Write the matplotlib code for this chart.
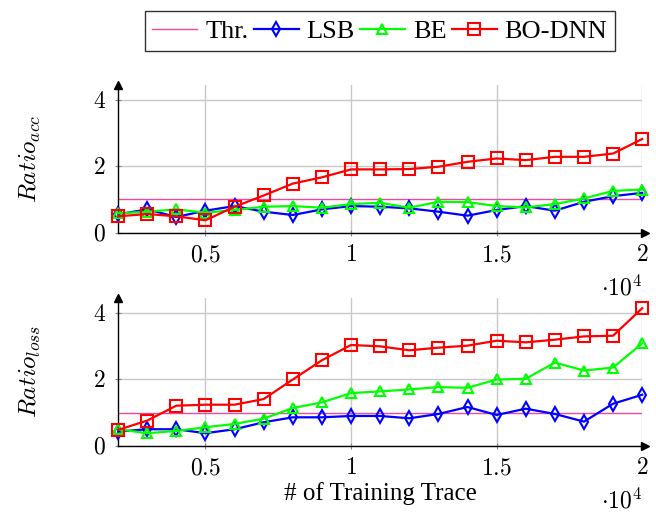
import numpy as np
import matplotlib.pyplot as plt

plt.rcParams['mathtext.fontset'] = 'cm'
plt.rcParams['font.family'] = 'Liberation Serif'

# training trace counts
traces = [2000, 3000, 4000, 5000, 6000, 7000, 8000, 9000, 10000, 11000,
          12000, 13000, 14000, 15000, 16000, 17000, 18000, 19000, 20000]
thr = 1.0

# accuracy ratio
acc_lsb = [0.55, 0.70, 0.47, 0.66, 0.80, 0.63, 0.53, 0.70, 0.80, 0.78,
           0.73, 0.63, 0.51, 0.68, 0.80, 0.66, 0.93, 1.10, 1.20]
acc_be = [0.58, 0.63, 0.70, 0.60, 0.68, 0.78, 0.80, 0.75, 0.86, 0.90,
          0.75, 0.93, 0.92, 0.80, 0.76, 0.86, 1.03, 1.26, 1.30]
acc_bo = [0.49, 0.56, 0.49, 0.37, 0.78, 1.12, 1.48, 1.67, 1.91, 1.91,
          1.92, 1.99, 2.14, 2.24, 2.19, 2.29, 2.29, 2.39, 2.83]

# loss ratio
loss_lsb = [0.43, 0.50, 0.50, 0.38, 0.50, 0.71, 0.86, 0.86, 0.90, 0.90,
            0.83, 0.96, 1.17, 0.93, 1.12, 0.96, 0.73, 1.27, 1.54]
loss_be = [0.50, 0.38, 0.45, 0.56, 0.66, 0.82, 1.14, 1.31, 1.59, 1.64,
           1.70, 1.77, 1.75, 2.00, 2.02, 2.51, 2.27, 2.36, 3.09]
loss_bo = [0.48, 0.76, 1.21, 1.24, 1.24, 1.41, 2.00, 2.58, 3.04, 3.00,
           2.88, 2.96, 3.02, 3.17, 3.12, 3.20, 3.30, 3.32, 4.15]

xticks = [5000, 10000, 15000, 20000]
xticklabels = ['$0.5$', '$1$', '$1.5$', '$2$']
yticks = [0, 2, 4]

PINK = '#ea4aa2'

fig = plt.figure(figsize=(6.56, 5.19), dpi=100)
ax1 = fig.add_axes([0.180, 0.552, 0.799, 0.284])
ax2 = fig.add_axes([0.180, 0.141, 0.799, 0.285])


def draw(ax, lsb, be, bo, ylab):
    ax.axhline(thr, color=PINK, lw=1.0, label='Thr.', zorder=2)
    ax.plot(traces, lsb, color='blue', marker='d', mfc='none', mew=1.5,
            ms=7, lw=1.6, label='LSB', zorder=3, clip_on=False)
    ax.plot(traces, be, color='#00ff00', marker='^', mfc='none', mew=1.5,
            ms=7, lw=1.6, label='BE', zorder=4, clip_on=False)
    ax.plot(traces, bo, color='red', marker='s', mfc='none', mew=1.5,
            ms=8, lw=1.6, label='BO-DNN', zorder=5, clip_on=False)
    ax.set_xlim(2000, 20000)
    ax.set_ylim(0, 4.46)
    ax.set_xticks(xticks)
    ax.set_xticklabels(xticklabels)
    ax.set_yticks(yticks)
    ax.set_yticklabels(['$%d$' % t for t in yticks])
    ax.tick_params(labelsize=17, length=4, width=0.8, color='#888888',
                   direction='inout', pad=7)
    ax.grid(True, color='#c8c8c8', lw=1.0)
    ax.set_axisbelow(True)
    for s in ['top', 'right']:
        ax.spines[s].set_visible(False)
    for s in ['left', 'bottom']:
        ax.spines[s].set_linewidth(1.0)
    ax.plot(1.005, 0, marker='>', color='black', ms=6, transform=ax.transAxes,
            clip_on=False)
    ax.plot(0, 1.0, marker='^', color='black', ms=6, transform=ax.transAxes,
            clip_on=False)
    ax.set_ylabel(ylab, fontsize=18, labelpad=36)
    ax.text(1.0, -0.29, r'$\cdot 10^4$', transform=ax.transAxes,
            ha='right', va='top', fontsize=17)


draw(ax1, acc_lsb, acc_be, acc_bo, r'$Ratio_{acc}$')
draw(ax2, loss_lsb, loss_be, loss_bo, r'$Ratio_{loss}$')
ax2.set_xlabel('# of Training Trace', fontsize=18, labelpad=2)

handles, labels = ax1.get_legend_handles_labels()
fig.legend(handles, labels, loc='center', bbox_to_anchor=(0.579, 0.940),
           ncol=4, fontsize=19, frameon=True, fancybox=False,
           edgecolor='#333333', handlelength=1.7, handletextpad=0.3,
           columnspacing=0.2, borderpad=0.3, framealpha=1)

fig.savefig('out.png', dpi=100)
